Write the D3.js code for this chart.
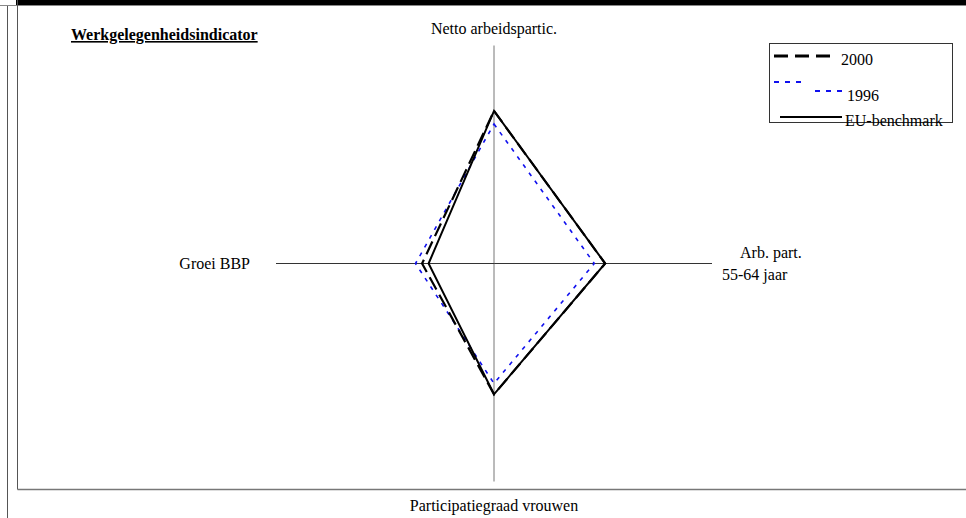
<!DOCTYPE html>
<html><head><meta charset="utf-8">
<script src="https://cdn.jsdelivr.net/npm/d3@7"></script>
<style>
html,body{margin:0;padding:0;background:#fff;}
svg{display:block;font-family:"Liberation Serif","Times New Roman",serif;}
svg text{font-family:"Liberation Serif","Times New Roman",serif;}
</style></head>
<body>
<svg id="c" width="966" height="518"></svg>
<script>
// ---- data ----
const categories = ["Netto arbeidspartic.", "Arb. part.|55-64 jaar", "Participatiegraad vrouwen", "Groei BBP"];
const seriesNames = ["2000", "1996", "EU-benchmark"];
const values2000 = [0.70, 0.51, 0.60, 0.33];
const values1996 = [0.64, 0.46, 0.55, 0.36];
const valuesEU   = [0.70, 0.51, 0.60, 0.30];
const title = "Werkgelegenheidsindicator";

const svg = d3.select("#c");
const W = 966, H = 518;

// frame
svg.append("rect").attr("x",16).attr("y",0).attr("width",W-16).attr("height",5).attr("fill","#000");
svg.append("line").attr("x1",0).attr("x2",W).attr("y1",5.5).attr("y2",5.5).attr("stroke","#888").attr("stroke-width",1);
svg.append("line").attr("x1",7.5).attr("x2",7.5).attr("y1",6).attr("y2",H).attr("stroke","#555").attr("stroke-width",1);
svg.append("line").attr("x1",17.5).attr("x2",17.5).attr("y1",0).attr("y2",489.5).attr("stroke","#555").attr("stroke-width",1);
svg.append("line").attr("x1",17.5).attr("x2",W).attr("y1",489.5).attr("y2",489.5).attr("stroke","#777").attr("stroke-width",1.5);

// title
svg.append("text").attr("x",71).attr("y",40).attr("font-size",16).attr("font-weight","bold")
  .attr("text-decoration","underline").text(title);

// radar
const cx = 494, cy = 263.5, R = 218;
const r = d3.scaleLinear().domain([0,1]).range([0,R]);
const angle = d3.scaleLinear().domain([0, categories.length]).range([0, 2*Math.PI]);
const g = svg.append("g").attr("transform",`translate(${cx},${cy})`);

// axes
categories.forEach((c,i)=>{
  const a = angle(i);
  const x = Math.sin(a)*r(1), y = -Math.cos(a)*r(1);
  g.append("line").attr("x1",0).attr("y1",0).attr("x2",x).attr("y2",y)
    .attr("stroke", i%2===0 ? "#777" : "#333").attr("stroke-width",1);
});

const radial = d3.lineRadial().angle((d,i)=>angle(i)).radius(d=>r(d)).curve(d3.curveLinearClosed);

g.append("path").attr("d",radial(values1996)).attr("fill","none").attr("stroke","#1010ee")
  .attr("stroke-width",1.6).attr("stroke-dasharray","4,6");
g.append("path").attr("d",radial(valuesEU)).attr("fill","none").attr("stroke","#000")
  .attr("stroke-width",2).attr("stroke-linejoin","miter");
g.append("path").attr("d",radial(values2000)).attr("fill","none").attr("stroke","#000")
  .attr("stroke-width",2.2).attr("stroke-dasharray","14,6");

// axis labels
const fs = 16;
svg.append("text").attr("x",494).attr("y",34).attr("text-anchor","middle").attr("font-size",fs).text(categories[0]);
const rl = categories[1].split("|");
svg.append("text").attr("x",740).attr("y",258).attr("font-size",fs).text(rl[0]);
svg.append("text").attr("x",722).attr("y",280).attr("font-size",fs).text(rl[1]);
svg.append("text").attr("x",494).attr("y",511).attr("text-anchor","middle").attr("font-size",fs).text(categories[2]);
svg.append("text").attr("x",250).attr("y",269).attr("text-anchor","end").attr("font-size",fs).text(categories[3]);

// legend
const lg = svg.append("g");
lg.append("rect").attr("x",769.5).attr("y",43.5).attr("width",183).attr("height",79)
  .attr("fill","#fff").attr("stroke","#333").attr("stroke-width",1);
lg.append("line").attr("x1",774).attr("x2",832).attr("y1",56).attr("y2",56)
  .attr("stroke","#000").attr("stroke-width",3).attr("stroke-dasharray","14,7");
lg.append("text").attr("x",841).attr("y",65).attr("font-size",fs).text(seriesNames[0]);
lg.append("line").attr("x1",774).attr("x2",804).attr("y1",82).attr("y2",82)
  .attr("stroke","#1010ee").attr("stroke-width",2).attr("stroke-dasharray","5,6");
lg.append("line").attr("x1",815).attr("x2",844).attr("y1",91).attr("y2",91)
  .attr("stroke","#1010ee").attr("stroke-width",2).attr("stroke-dasharray","5,6");
lg.append("text").attr("x",847).attr("y",101).attr("font-size",fs).text(seriesNames[1]);
lg.append("line").attr("x1",780).attr("x2",842).attr("y1",117).attr("y2",117)
  .attr("stroke","#000").attr("stroke-width",2);
lg.append("text").attr("x",845).attr("y",126).attr("font-size",fs).text(seriesNames[2]);
</script>
</body></html>
